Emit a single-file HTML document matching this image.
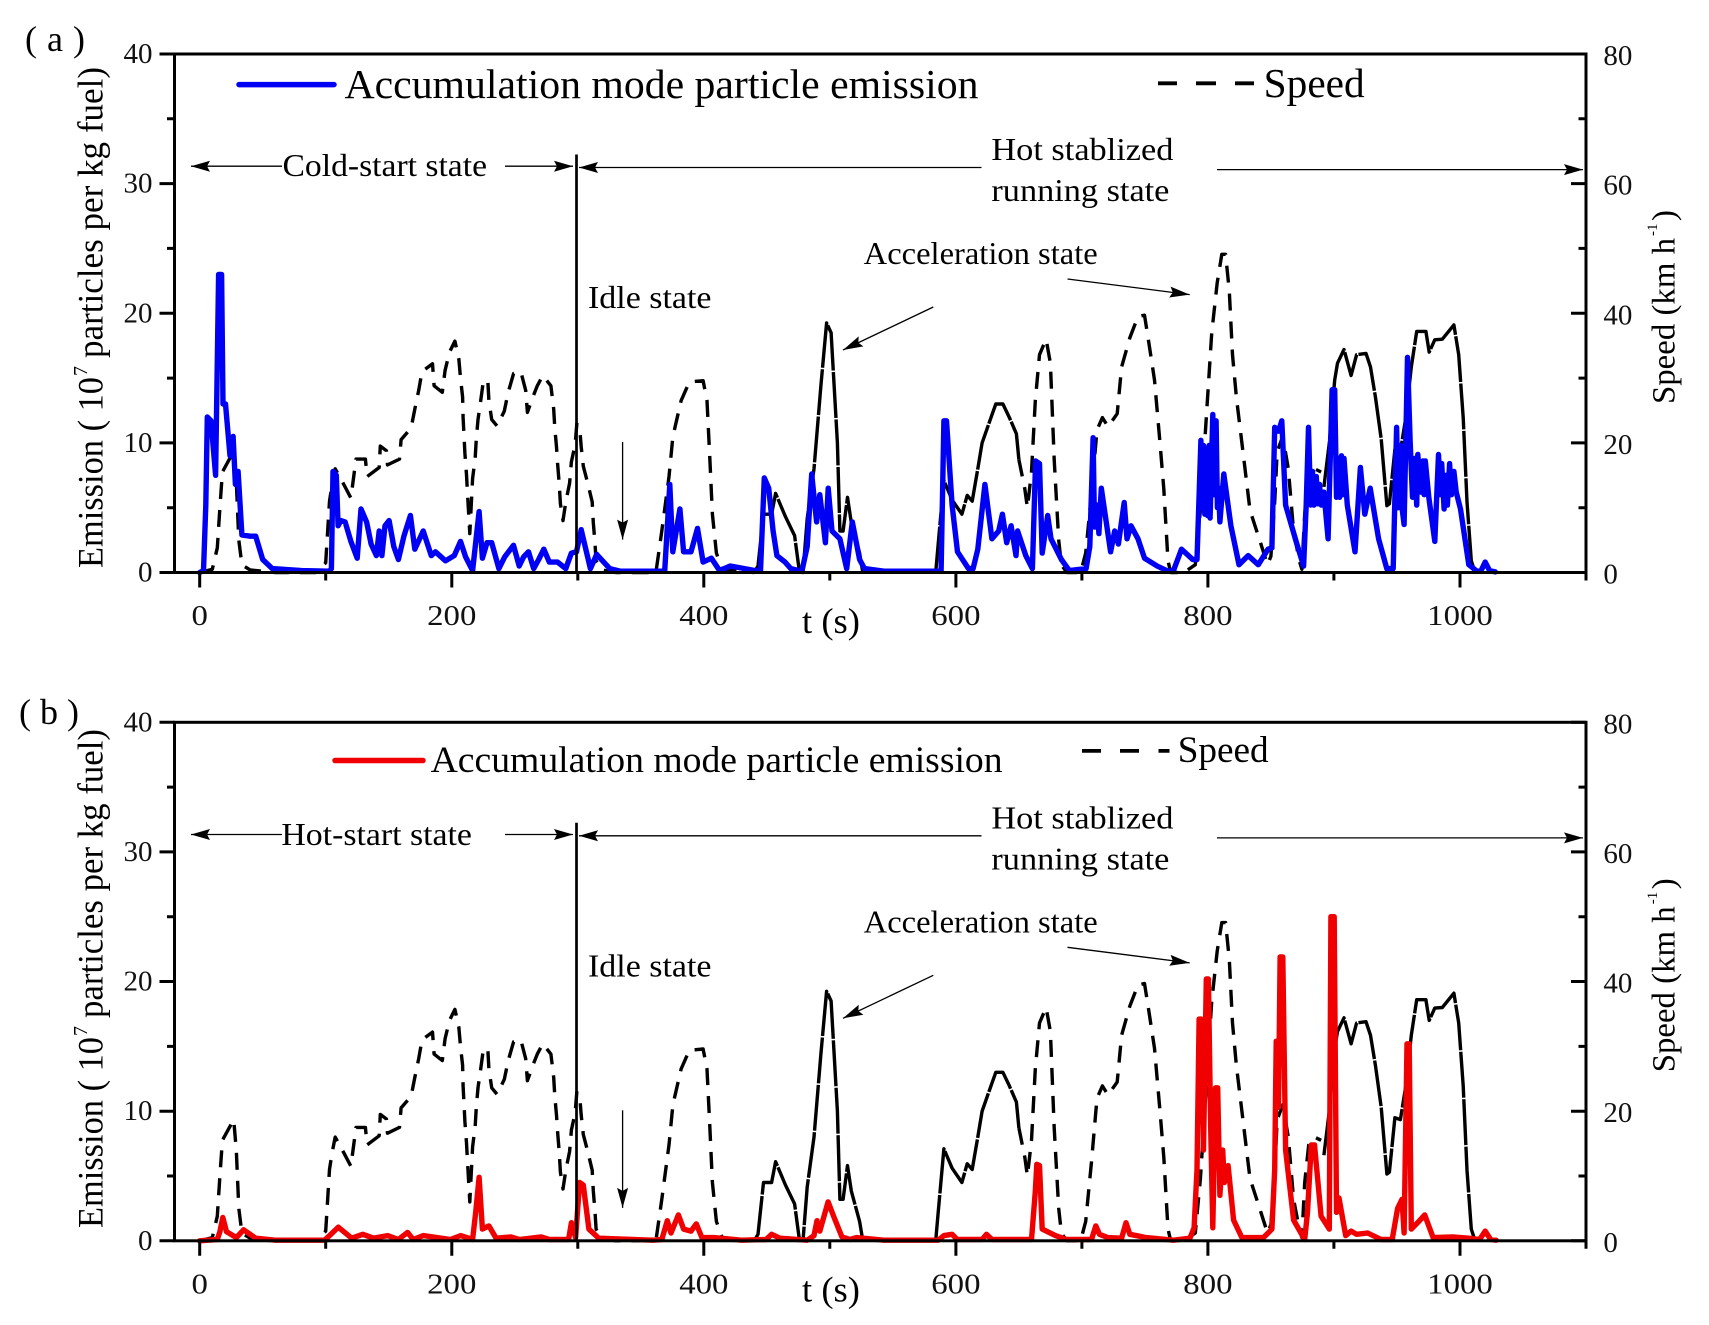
<!DOCTYPE html>
<html lang="en">
<head>
<meta charset="utf-8">
<title>Particle emission and speed</title>
<style>
html,body{margin:0;padding:0;background:#fff;width:1709px;height:1325px;overflow:hidden}
svg{display:block}
text{font-family:"Liberation Serif",serif;fill:#000}
.ann{font-size:32px}
.tick{font-size:29px;fill:#111}
</style>
</head>
<body>
<svg id="chart" width="1709" height="1325" viewBox="0 0 1709 1325" xmlns="http://www.w3.org/2000/svg">
<g id="panel-a">
  <g id="plot-a"></g>
  <text x="25" y="51" font-size="36" textLength="60" lengthAdjust="spacing">( a )</text>
  <line x1="239" x2="334" y1="84.6" y2="84.6" stroke="#0000f5" stroke-width="5.5" stroke-linecap="round"/>
  <text x="344.5" y="98" font-size="41" textLength="634" lengthAdjust="spacingAndGlyphs">Accumulation mode particle emission</text>
  <path d="M1158 83.3H1177M1196 83.3H1216M1235 83.3H1254" stroke="#000" stroke-width="3.8" fill="none"/>
  <text x="1263.7" y="96.8" font-size="41" textLength="101" lengthAdjust="spacingAndGlyphs">Speed</text>
  <text class="ann" x="282.5" y="176" textLength="204.5" lengthAdjust="spacingAndGlyphs">Cold-start state</text>
  <text class="ann" x="991.4" y="160" textLength="182" lengthAdjust="spacingAndGlyphs">Hot stablized</text>
  <text class="ann" x="991.4" y="201" textLength="178" lengthAdjust="spacingAndGlyphs">running state</text>
  <text class="ann" x="863.7" y="264" textLength="234" lengthAdjust="spacingAndGlyphs">Acceleration state</text>
  <text class="ann" x="588" y="308" textLength="123.5" lengthAdjust="spacingAndGlyphs">Idle state</text>
  <text x="802" y="633" font-size="36" textLength="58" lengthAdjust="spacingAndGlyphs">t (s)</text>
  <g>
    <text transform="translate(102.6,568) rotate(-90)" font-size="36" textLength="191" lengthAdjust="spacingAndGlyphs">Emission ( 10</text>
    <text transform="translate(87,376) rotate(-90)" font-size="20">7</text>
    <text transform="translate(102.6,358) rotate(-90)" font-size="36" textLength="291" lengthAdjust="spacingAndGlyphs">particles per kg fuel)</text>
  </g>
  <g>
    <text transform="translate(1674.6,404) rotate(-90)" font-size="33" textLength="166" lengthAdjust="spacingAndGlyphs">Speed (km h</text>
    <text transform="translate(1657,236) rotate(-90)" font-size="15">-1</text>
    <text transform="translate(1674.6,221) rotate(-90)" font-size="33">)</text>
  </g>
</g>
<g id="panel-b">
  <g id="plot-b"></g>
  <text x="19" y="724" font-size="36" textLength="60" lengthAdjust="spacing">( b )</text>
  <line x1="335" x2="423" y1="760.5" y2="760.5" stroke="#f00000" stroke-width="5.5" stroke-linecap="round"/>
  <text x="430.6" y="772" font-size="37" textLength="572" lengthAdjust="spacingAndGlyphs">Accumulation mode particle emission</text>
  <path d="M1082 750.9H1101M1120 750.9H1139M1158.5 750.9H1169.5" stroke="#000" stroke-width="3.8" fill="none"/>
  <text x="1177.7" y="761.8" font-size="37" textLength="91" lengthAdjust="spacingAndGlyphs">Speed</text>
  <text class="ann" x="281.4" y="845" textLength="190.5" lengthAdjust="spacingAndGlyphs">Hot-start state</text>
  <text class="ann" x="991.4" y="828.3" textLength="182" lengthAdjust="spacingAndGlyphs">Hot stablized</text>
  <text class="ann" x="991.4" y="869.3" textLength="178" lengthAdjust="spacingAndGlyphs">running state</text>
  <text class="ann" x="863.7" y="932.3" textLength="234" lengthAdjust="spacingAndGlyphs">Acceleration state</text>
  <text class="ann" x="588" y="976.3" textLength="123.5" lengthAdjust="spacingAndGlyphs">Idle state</text>
  <text x="802" y="1301.3" font-size="36" textLength="58" lengthAdjust="spacingAndGlyphs">t (s)</text>
  <g>
    <text transform="translate(102.6,1228) rotate(-90)" font-size="36" textLength="191" lengthAdjust="spacingAndGlyphs">Emission ( 10</text>
    <text transform="translate(87,1036) rotate(-90)" font-size="20">7</text>
    <text transform="translate(102.6,1018) rotate(-90)" font-size="36" textLength="289" lengthAdjust="spacingAndGlyphs">particles per kg fuel)</text>
  </g>
  <g>
    <text transform="translate(1674.6,1072.3) rotate(-90)" font-size="33" textLength="166" lengthAdjust="spacingAndGlyphs">Speed (km h</text>
    <text transform="translate(1657,904.3) rotate(-90)" font-size="15">-1</text>
    <text transform="translate(1674.6,889.3) rotate(-90)" font-size="33">)</text>
  </g>
</g>
</svg>
<script>
// Chart data. Each entry: [time s, value]
const xTickLabels = [0, 200, 400, 600, 800, 1000];
const xTicksAll = [0, 100, 200, 300, 400, 500, 600, 700, 800, 900, 1000, 1100];
const yLeftTicks = [0, 10, 20, 30, 40];
const yLeftMinor = [5, 15, 25, 35];
const yRightTicks = [0, 20, 40, 60, 80];
const yRightMinor = [10, 30, 50, 70];
const xDomain = [-20, 1100];
const yLeftDomain = [0, 40];
const yRightDomain = [0, 80];

const speedData = [[0,0],[10,0.5],[14,3.8],[16,10],[18,15.5],[27,18.7],[29,14],[31,5],[33.5,1.2],[40,0.4],[60,0],[92,0],[100,1.5],[103,11],[105,13.5],[107.5,16],[114,13.7],[120,11.5],[124,17.5],[131.5,17.5],[132.8,14.8],[142.4,16.2],[143.3,19.5],[148.1,18.8],[149,16.6],[158.5,17.5],[159.8,20.5],[167.7,22.3],[170.7,25.2],[173.8,28.1],[176.4,31],[184.7,32.2],[186,28.8],[192.5,27.8],[194.7,31.2],[198.2,34],[202.5,35.7],[205.6,33],[206.9,30],[208.6,27.1],[209,23.9],[210.4,18.4],[211.7,15.1],[212.5,12.2],[214.3,6],[216.5,14.5],[218.6,17.7],[219.5,20.6],[220.8,23.6],[223,26.5],[225.2,29.7],[228.7,29.4],[229.5,26.5],[231.7,23.6],[236,22.6],[241.7,24.9],[244.8,27.8],[249.1,30.7],[254.8,31],[258.7,28.1],[260,24.7],[264.4,27.1],[267.9,28.8],[272.2,30.4],[278.7,28.8],[280.9,25.2],[281.8,22.3],[283.1,19.4],[284,16.8],[285.3,13.5],[286.2,10.6],[288.3,8],[290.5,10.9],[293.5,13.8],[294.9,17.1],[297.9,19.7],[299.2,22.9],[301.4,22.5],[302.7,19.4],[304.4,16.4],[307.9,13.8],[311.4,10.9],[312.3,7.7],[313.6,4.7],[314.5,1.8],[318.8,0.4],[330,0],[362,0],[366.7,6.4],[372.4,14.8],[375.5,21],[382,26.5],[388.5,29.4],[399.4,29.6],[402.5,26.5],[404.7,18],[406.8,9],[410,3],[414.6,0.5],[440,0],[443,1],[447.4,9],[453.8,9],[457,12.2],[464.8,8.6],[472,5.7],[475.6,0.5],[478.7,0],[482,8.3],[487.4,16],[493,29],[497.4,38.5],[501,37],[506,20],[508,6.4],[510.5,6.4],[514,11.6],[517,7.7],[523.6,3],[526,0.2],[584,0],[586,4.4],[590.5,14.2],[597,11.2],[604.8,9],[609,11.9],[613,11],[617.4,16],[620.8,20],[627.3,23.6],[631.7,26],[637.3,26],[642.5,23.9],[648,21.4],[650,17.4],[654.7,12.9],[656.8,10],[660,15.5],[663,26.5],[666.4,33.6],[671.6,36],[675,32.3],[678,17.4],[681.6,5],[683.7,1.2],[688,0],[699,0],[703,3],[707.6,12.2],[712,22],[716.3,23.9],[720.7,22.5],[728,24.5],[731.5,31.7],[738,36.2],[744.5,39.5],[749.7,39.7],[753,35.6],[757.6,29.7],[762,20],[765,12.9],[768.3,1.8],[770.5,0],[781,0],[790,1.2],[794,9.6],[798.7,23.9],[803,36.9],[807.4,44.7],[811,49.1],[814,49.1],[817,43.4],[819.5,33.6],[822.6,27],[827,20],[833.4,9.6],[842,4.4],[847.3,1.2],[850,2.5],[853,10.9],[855,18.7],[859.4,21],[863.8,16],[868,6.4],[872.5,1.8],[874.6,0.5],[876.8,9],[880,14.8],[884.6,16],[889.8,15.5],[892,13.2],[896.3,20],[900.6,29.7],[902.8,32.3],[908,34.4],[913.6,30.4],[918,33.6],[925.4,33.8],[929,31.7],[933,27],[937.5,20.6],[942,10.3],[944,10.6],[948.4,19],[952.7,18.7],[957,23.9],[961.4,31.7],[965.7,37.2],[973,37.2],[975.6,34],[980,35.9],[986,36],[995.2,38.2],[999,33.6],[1002.6,23.9],[1005.6,10.9],[1009,1.8],[1012,0]];

const emissionColdData = [[0,0],[3,0.15],[4.8,5.2],[6,12],[9,11.7],[12.6,7.5],[15,23],[17.4,23],[18.5,13],[20.5,13],[24,9],[26.5,10.5],[28.3,6.8],[30.5,7.8],[33.5,2.9],[40,2.8],[44.4,2.8],[50,1],[57.5,0.3],[81,0.15],[103,0.1],[104.5,0.3],[105.8,7.8],[108.4,7.5],[109.8,3.6],[112,4],[115.4,3.9],[120,2.4],[125,1.1],[128,4.9],[132.4,3.9],[136,2.2],[140.2,1.3],[142.4,3.2],[144.6,1.3],[147,3.6],[150.3,4],[154,2],[157.7,1],[162,2.8],[167.2,4.4],[170.7,1.8],[177.3,3.2],[183.8,1.3],[187,1.6],[195,0.9],[202,1.3],[206.9,2.4],[211,1.2],[216.5,0.15],[221.7,4.7],[224.3,1.1],[228,2.3],[231.7,2.3],[237.4,0.3],[242,1.2],[249,2.1],[253.5,0.5],[257,1.2],[260.9,1.6],[265,0.3],[269,1],[273,1.8],[277.4,0.8],[284,0.8],[290.5,0.3],[294.9,1.5],[299,1.6],[302.7,3.3],[310,0.3],[315,1.4],[325.3,0.3],[334,0.1],[369,0.1],[373,6.8],[375.4,1.6],[381,4.9],[384,1.6],[389.8,1.6],[395,3.4],[399.4,0.8],[406,1.1],[412.5,0.15],[421,0.5],[441,0.15],[445,0.15],[448,7.3],[451.5,6.5],[455,3.2],[458,1.3],[464.5,0.8],[469,0.3],[477.8,0.1],[482,2],[485.6,7.6],[489.5,3.9],[492,6],[496.5,2.3],[498.7,6.5],[501.7,3.2],[508,2.6],[513.4,0.3],[517.8,3.9],[523.6,1],[527.5,0.3],[543,0.1],[588.3,0.1],[590.5,11.7],[592.6,11.7],[597,5.2],[601.3,1.6],[610,0.3],[613.7,0.3],[617.4,1.8],[623,6.8],[628.6,2.6],[634,3.2],[636.9,4.5],[640.3,2.3],[643.8,3.6],[647.7,1.3],[649,3.2],[655.5,1.3],[660.7,0.3],[663.3,8.6],[666.4,8.4],[668.5,1.5],[672.9,4.4],[675.5,2.6],[683.7,1],[690,0.15],[703.3,0.3],[706.3,2],[708.9,10.4],[710,3.5],[712,5.2],[713.5,3],[715.4,6.5],[722.8,1.6],[726,3.2],[729,2.2],[733.6,5.4],[735.8,2.6],[739,3.6],[744.5,2.6],[749.7,1.1],[759.7,0.5],[768.3,0.1],[772.7,0.15],[779,1.8],[787.9,1],[791.3,1],[794.4,10.2],[795.5,5],[796.5,9.8],[797.5,4.5],[798.7,9.5],[799.7,4.4],[800.9,9.8],[801.7,4.2],[803.9,12.2],[805,6],[806.5,11.7],[807.5,5],[808.5,6.5],[809.5,3.9],[812.6,7.6],[818.2,3.6],[824.7,0.6],[832,1.3],[840,0.6],[847.7,1.8],[850.8,1.9],[853,11.2],[856,10.9],[858.6,11.7],[861.6,5.2],[870.3,2.3],[875.9,0.5],[878,5.2],[879.8,11.2],[881.5,5.2],[883,7.8],[884,5.2],[886,7.4],[887,5.3],[888.5,6.8],[890,5.2],[892,6.2],[895.4,2.6],[898.5,14.1],[900.6,14.1],[902,5.8],[903.5,8.8],[904.5,5.8],[906,9],[907,6],[908,8.8],[910.6,5.2],[916.7,1.6],[921,8.1],[924.5,4.5],[928.8,6.5],[935.4,2.6],[941.9,0.3],[947,0.3],[949.7,11.2],[951,5],[952.7,9.8],[953.8,5.2],[955.7,3.7],[958.4,16.6],[960.5,10],[962.3,5.8],[964,8.8],[965.7,5.2],[966.5,9.1],[968.8,6.2],[970.5,8.6],[971.5,6],[972.5,8.6],[975.3,5.8],[980,2.4],[983,9.1],[984.5,6],[985.5,8.4],[987.4,4.9],[989,7.5],[990,5.2],[991.8,8.4],[993.2,6],[995.2,7.8],[997,6.2],[1000.4,4.9],[1007,0.6],[1013.4,0.1],[1016.5,0.1],[1020,0.8],[1023.5,0.15],[1028,0.05]];

const emissionHotData = [[0,0],[14,0.1],[16,0.7],[18.3,1.8],[21.3,0.7],[29,0.25],[34.8,0.85],[44.4,0.2],[60,0.05],[99,0.05],[103,0.4],[110,1.05],[120.6,0.2],[129.4,0.5],[138,0.2],[149,0.4],[157.7,0.1],[165,0.65],[169.4,0.1],[177.3,0.4],[199,0.1],[207,0.4],[216.5,0.1],[219,2.2],[221.7,4.9],[224.3,0.9],[229.5,1.15],[235.2,0.2],[247,0.3],[253.5,0.1],[271,0.3],[277.4,0.1],[292.7,0.1],[294.9,1.4],[298.3,0.25],[301.4,4.5],[304.4,4.3],[308.8,0.9],[316.6,0.2],[360,0.05],[366.7,0.1],[371,1.55],[374,0.6],[379.8,2],[384,0.9],[389.8,0.75],[394,1.3],[398.5,0.25],[408,0.25],[430,0.05],[449.5,0.1],[453.8,0.5],[460.4,0.2],[482,0.05],[487.4,0.4],[489.8,1.55],[492,0.75],[498.6,3],[503,1.9],[509.6,0.3],[516,0.1],[521,0.25],[543,0.05],[586,0.05],[590.5,0.4],[597,0.5],[601,0.1],[620.8,0.1],[624.3,0.5],[628.6,0.1],[660,0.1],[663,3.8],[664.2,5.9],[666.4,5.8],[668.5,0.9],[679,0.4],[688,0.1],[707.6,0.1],[711,1.15],[714,0.5],[720.6,0.25],[731.5,0.2],[735,1.4],[738,0.5],[751,0.25],[772.7,0.05],[785.7,0.2],[789,1],[791.3,5.5],[793,17.1],[794.8,17.1],[796.5,7],[798.7,20.2],[800.4,20.2],[802.2,8.7],[803.9,1],[806,11.8],[807.8,11.8],[809.5,3.5],[811.7,7],[813,4.5],[816,5.8],[820.4,1.6],[827,0.25],[844,0.25],[850.8,0.9],[853,5.5],[854.2,15.4],[856,10.3],[857.3,21.9],[859.4,21.9],[861.6,7],[868,1.6],[876.8,0.1],[879,2.2],[882,7.4],[884.6,7.4],[889.8,1.9],[896.3,0.9],[897.6,25],[900.2,25],[902,2.2],[904,3.3],[909.3,0.4],[913.6,0.75],[918,0.5],[926.7,0.6],[937.5,0.1],[946.2,0.1],[950.5,2.5],[954,3.2],[955.7,0.6],[958,15.2],[959.7,15.2],[961.4,0.9],[967.9,1.55],[972,2],[978.7,0.25],[994,0.3],[1007,0.2],[1015.6,0.1],[1020,0.75],[1024.3,0.1],[1028.7,0.05]];

// Portions of the speed trace where the dash pattern looks almost continuous
const nearSolidRanges = [[440, 530], [584, 650], [890, 1012]];

const NS = 'http://www.w3.org/2000/svg';
const plotLeft = 174.5, plotRight = 1586;

function scaleX(t) {
  return plotLeft + (t - xDomain[0]) / (xDomain[1] - xDomain[0]) * (plotRight - plotLeft);
}
function scaler(domain, top, bottom) {
  return function (v) {
    return bottom - (v - domain[0]) / (domain[1] - domain[0]) * (bottom - top);
  };
}
function node(tag, attrs, parent) {
  const el = document.createElementNS(NS, tag);
  for (const k in attrs) el.setAttribute(k, attrs[k]);
  parent.appendChild(el);
  return el;
}
function pathFrom(points, yFn) {
  return points.map(function (p, i) {
    return (i ? 'L' : 'M') + scaleX(p[0]).toFixed(1) + ' ' + yFn(p[1]).toFixed(1);
  }).join('');
}
function arrowHead(g, tipX, tipY, fromX, fromY, len, half) {
  const dx = tipX - fromX, dy = tipY - fromY, d = Math.hypot(dx, dy);
  const ux = dx / d, uy = dy / d;
  const bx = tipX - ux * len, by = tipY - uy * len;
  const pts = [tipX, tipY, bx - uy * half, by + ux * half, bx + ux * 3, by + uy * 3, bx + uy * half, by - ux * half];
  const el = node('polygon', { points: pts.map(function (n) { return n.toFixed(1); }).join(' '), fill: '#000' }, g);
  
  
}
function arrow(g, x1, y1, x2, y2, len, half) {
  const el = node('line', { x1: x1, y1: y1, x2: x2, y2: y2, stroke: '#000', 'stroke-width': 1.3 }, g);
  
  
  arrowHead(g, x2, y2, x1, y1, len, half);
}

function drawPanel(g, top, emission, color, seriesName) {
  const bottom = top + 518.5;
  const dy = top - 54;
  const yL = scaler(yLeftDomain, top, bottom);
  const yR = scaler(yRightDomain, top, bottom);

  // speed trace: dashed portions and near-solid portions
  const dashedRuns = [];
  const solidRuns = nearSolidRanges.map(function (r) {
    return speedData.filter(function (p) { return p[0] >= r[0] && p[0] <= r[1]; });
  });
  let run = [];
  speedData.forEach(function (p) {
    const inSolid = nearSolidRanges.some(function (r) { return p[0] > r[0] && p[0] < r[1]; });
    if (inSolid) {
      if (run.length) { dashedRuns.push(run); run = []; }
    } else {
      run.push(p);
    }
  });
  if (run.length) dashedRuns.push(run);

  dashedRuns.forEach(function (pts) {
    const el = node('path', { d: pathFrom(pts, yR), fill: 'none', stroke: '#000', 'stroke-width': 3.4, 'stroke-dasharray': '17 11', 'stroke-linejoin': 'round' }, g);
    
    
  });
  solidRuns.forEach(function (pts) {
    const el = node('path', { d: pathFrom(pts, yR), fill: 'none', stroke: '#000', 'stroke-width': 3.4, 'stroke-dasharray': '46 1.5', 'stroke-linejoin': 'round' }, g);
    
    
  });

  const em = node('path', { d: pathFrom(emission, yL), fill: 'none', stroke: color, 'stroke-width': 5.4, 'stroke-linejoin': 'round', 'stroke-linecap': 'round' }, g);
  
  

  // frame
  const frame = node('rect', { x: plotLeft, y: top, width: plotRight - plotLeft, height: bottom - top, fill: 'none', stroke: '#000', 'stroke-width': 3 }, g);
  
  

  // ticks
  const marks = [];
  xTicksAll.forEach(function (t) {
    const major = xTickLabels.indexOf(t) >= 0;
    marks.push('M' + scaleX(t).toFixed(1) + ' ' + bottom + 'v' + (major ? 15 : 8));
  });
  yLeftTicks.forEach(function (v) { marks.push('M' + (plotLeft - 15) + ' ' + yL(v).toFixed(1) + 'h15'); });
  yLeftMinor.forEach(function (v) { marks.push('M' + (plotLeft - 7.5) + ' ' + yL(v).toFixed(1) + 'h7.5'); });
  yRightTicks.forEach(function (v) { marks.push('M' + (plotRight - 15) + ' ' + yR(v).toFixed(1) + 'h15'); });
  yRightMinor.forEach(function (v) { marks.push('M' + (plotRight - 7.5) + ' ' + yR(v).toFixed(1) + 'h7.5'); });
  const tm = node('path', { d: marks.join(''), stroke: '#000', 'stroke-width': 3, fill: 'none' }, g);
  
  

  // tick labels
  xTickLabels.forEach(function (t) {
    const label = String(t);
    const el = node('text', { class: 'tick', x: scaleX(t), y: top + 571, 'text-anchor': 'middle', textLength: label.length * 16.4, lengthAdjust: 'spacingAndGlyphs' }, g);
    
    
    el.textContent = label;
  });
  yLeftTicks.forEach(function (v) {
    const el = node('text', { class: 'tick', x: 152.5, y: yL(v) + 9, 'text-anchor': 'end' }, g);
    
    
    el.textContent = String(v);
  });
  yRightTicks.forEach(function (v) {
    const el = node('text', { class: 'tick', x: 1603.4, y: yR(v) + 11 }, g);
    
    
    el.textContent = String(v);
  });

  // state divider and annotation arrows
  const div = node('line', { x1: 576.5, x2: 576.5, y1: 154.5 + dy, y2: bottom, stroke: '#000', 'stroke-width': 2.7 }, g);
  
  
  arrow(g, 282, 166.2 + dy, 191, 166.2 + dy, 19, 5.5);
  arrow(g, 505, 166.2 + dy, 573, 166.2 + dy, 19, 5.5);
  arrow(g, 981.5, 167.5 + dy, 579, 167.5 + dy, 19, 5.5);
  arrow(g, 1217, 169.6 + dy, 1583, 169.6 + dy, 19, 5.5);
  arrow(g, 622.6, 442 + dy, 622.6, 539.6 + dy, 20, 5.5);
  arrow(g, 933.3, 307 + dy, 843, 350 + dy, 20, 5.5);
  arrow(g, 1067.5, 279 + dy, 1189.7, 294.6 + dy, 20, 5.5);
}

drawPanel(document.getElementById('plot-a'), 54, emissionColdData, '#0000f5', 'emission-line-cold-start');
drawPanel(document.getElementById('plot-b'), 722.3, emissionHotData, '#f00000', 'emission-line-hot-start');
</script>
</body>
</html>
